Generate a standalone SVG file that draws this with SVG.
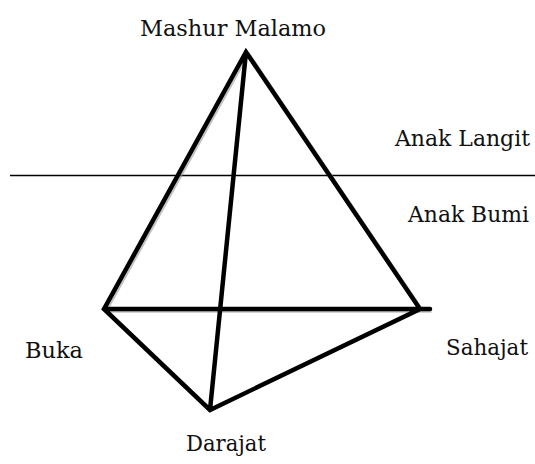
<svg xmlns="http://www.w3.org/2000/svg" width="535" height="464" viewBox="0 0 535 464">
<style>
text{font-family:"DejaVu Serif","Liberation Serif",serif;font-size:22px;fill:#111}
.e{stroke:#000;stroke-width:4.5;stroke-linecap:round;fill:none}
.s{stroke:#999;stroke-width:4.5;fill:none;opacity:.6}
</style>
<rect width="535" height="464" fill="#fff"/>
<g id="connectors">
<line x1="10" y1="175.5" x2="535" y2="175.5" stroke="#000" stroke-width="1.6"/>
<g transform="translate(1.5,1.5)">
<path class="s" d="M246,52 L104,309 M246,52 L420,309 M104,309 L430,309"/>
</g>
<path class="e" d="M246,52 L104,309 L210,410 L420,309 L246,52 Z M246,52 L210,410 M104,309 L430,309"/>
</g>
<g id="mashur"><text x="140" y="36" textLength="186" lengthAdjust="spacingAndGlyphs">Mashur Malamo</text></g>
<g id="langit"><text x="395" y="146" textLength="135" lengthAdjust="spacingAndGlyphs">Anak Langit</text></g>
<g id="bumi"><text x="408" y="222" textLength="121" lengthAdjust="spacingAndGlyphs">Anak Bumi</text></g>
<g id="buka"><text x="25" y="358" textLength="58" lengthAdjust="spacingAndGlyphs">Buka</text></g>
<g id="sahajat"><text x="446" y="355" textLength="82" lengthAdjust="spacingAndGlyphs">Sahajat</text></g>
<g id="darajat"><text x="186" y="451" textLength="80" lengthAdjust="spacingAndGlyphs">Darajat</text></g>
</svg>
